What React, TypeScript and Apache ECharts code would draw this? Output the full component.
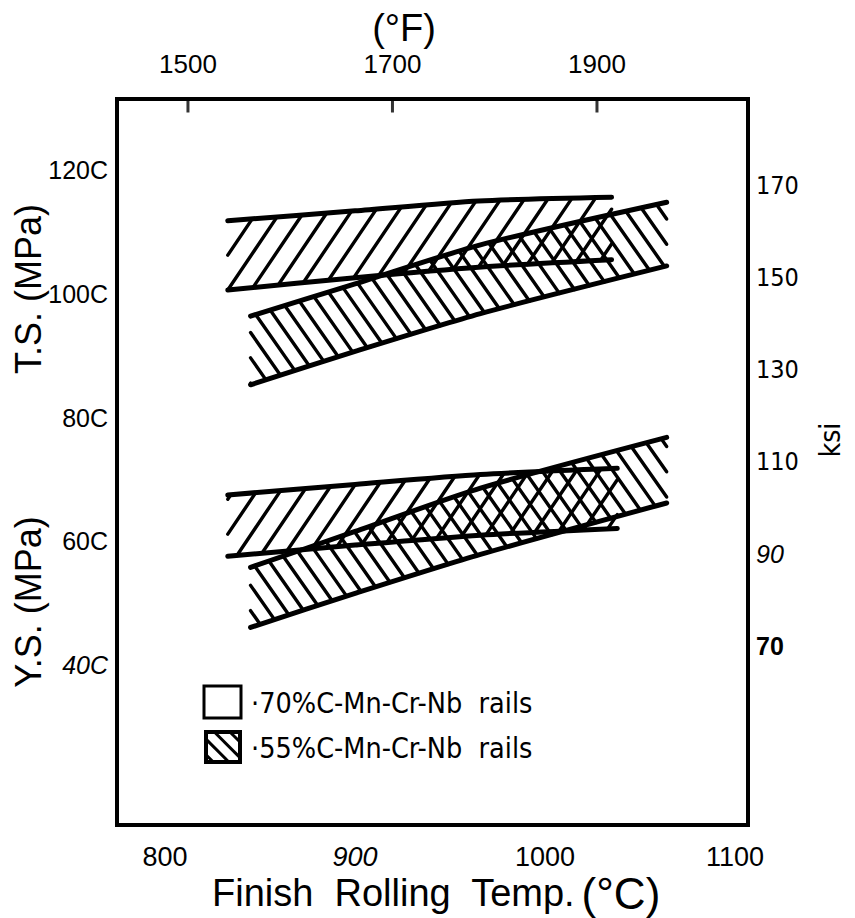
import React, { useEffect, useRef } from "react";
import * as echarts from "echarts";

// ---- axis ticks / labels ----
const xTicksC = [800, 900, 1000, 1100];
const xTicksF = [1500, 1700, 1900];
const yTicksMPa = [400, 600, 800, 1000, 1200];
const yTickLabelsMPa = ["40C", "60C", "80C", "100C", "120C"];
const yTicksKsi = [70, 90, 110, 130, 150, 170];

// ---- bands (temperature °C, upper / lower MPa) ----
// Tensile strength, .70%C rails
const ts70Temp = [833, 900, 965, 1035];
const ts70Upper = [1118, 1134, 1150, 1156];
const ts70Lower = [1006, 1026, 1043, 1055];
// Tensile strength, .55%C rails
const ts55Temp = [845, 900, 966, 1064];
const ts55Upper = [964, 1016, 1079, 1148];
const ts55Lower = [853, 907, 968, 1045];
// Yield strength, .70%C rails
const ys70Temp = [833, 900, 966, 1038];
const ys70Upper = [675, 692, 708, 718];
const ys70Lower = [576, 594, 610, 621];
// Yield strength, .55%C rails
const ys55Temp = [845, 900, 966, 1064];
const ys55Upper = [558, 616, 686, 768];
const ys55Lower = [461, 516, 579, 662];

const legendLabels = ["·70%C-Mn-Cr-Nb  rails", "·55%C-Mn-Cr-Nb  rails"];

const F_MIN = 1430.6;
const F_MAX = 2047.7;
const MPA_MIN = 141.8;
const MPA_MAX = 1314.7;

const NARROW = "'Liberation Sans Narrow', 'Arial Narrow', 'Liberation Sans', sans-serif";
const SANS = "'Liberation Sans', Arial, sans-serif";
const TECH = "'DejaVu Sans Condensed', 'DejaVu Sans', sans-serif";

type P = [number, number];

function hatchSegments(poly: P[], angleDeg: number, rising: boolean, spacing: number, offset = 0) {
  const a = (angleDeg * Math.PI) / 180;
  const d: P = [Math.cos(a), rising ? -Math.sin(a) : Math.sin(a)];
  const n: P = [-d[1], d[0]];
  const cs = poly.map((p) => p[0] * n[0] + p[1] * n[1]);
  const cmin = Math.min(...cs);
  const cmax = Math.max(...cs);
  const segs: [P, P][] = [];
  for (let c = Math.floor(cmin / spacing) * spacing + offset; c < cmax; c += spacing) {
    const pts: [number, number, number][] = [];
    for (let i = 0; i < poly.length; i++) {
      const p1 = poly[i];
      const p2 = poly[(i + 1) % poly.length];
      const f1 = p1[0] * n[0] + p1[1] * n[1] - c;
      const f2 = p2[0] * n[0] + p2[1] * n[1] - c;
      if (f1 < 0 !== f2 < 0) {
        const t = f1 / (f1 - f2);
        const x = p1[0] + (p2[0] - p1[0]) * t;
        const y = p1[1] + (p2[1] - p1[1]) * t;
        pts.push([x, y, x * d[0] + y * d[1]]);
      }
    }
    pts.sort((u, v) => u[2] - v[2]);
    for (let k = 0; k + 1 < pts.length; k += 2) {
      segs.push([
        [pts[k][0], pts[k][1]],
        [pts[k + 1][0], pts[k + 1][1]],
      ]);
    }
  }
  return segs;
}

function bandSeries(
  name: string,
  temps: number[],
  upper: number[],
  lower: number[],
  rising: boolean,
  angle: number,
  spacing: number,
  offset: number
) {
  return {
    type: "custom",
    name,
    coordinateSystem: "cartesian2d",
    xAxisIndex: 0,
    yAxisIndex: 0,
    clip: false,
    data: temps.map((t, i) => [t, upper[i], lower[i]]),
    renderItem: (params: any, api: any) => {
      if (params.dataIndex !== 0) return null;
      const up: P[] = temps.map((t, i) => api.coord([t, upper[i]]));
      const lo: P[] = temps.map((t, i) => api.coord([t, lower[i]]));
      const poly: P[] = [...up, ...lo.slice().reverse()];
      const segs = hatchSegments(poly, angle, rising, spacing, offset);
      const children: any[] = segs.map((s) => ({
        type: "line",
        shape: { x1: s[0][0], y1: s[0][1], x2: s[1][0], y2: s[1][1] },
        style: { stroke: "#000", lineWidth: 3.4, lineCap: "round" },
      }));
      children.push({
        type: "polyline",
        shape: { points: up, smooth: 0.25 },
        style: { stroke: "#000", fill: null, lineWidth: 5, lineCap: "round", lineJoin: "round" },
      });
      children.push({
        type: "polyline",
        shape: { points: lo, smooth: 0.25 },
        style: { stroke: "#000", fill: null, lineWidth: 5, lineCap: "round", lineJoin: "round" },
      });
      return { type: "group", children };
    },
  };
}

function legendHatch(x: number, y: number, w: number, h: number) {
  const poly: P[] = [
    [x, y],
    [x + w, y],
    [x + w, y + h],
    [x, y + h],
  ];
  return hatchSegments(poly, 45, false, 11, 3).map((s) => ({
    type: "line",
    shape: { x1: s[0][0], y1: s[0][1], x2: s[1][0], y2: s[1][1] },
    style: { stroke: "#000", lineWidth: 3 },
  }));
}

export default function App() {
  const ref = useRef<HTMLDivElement>(null);
  useEffect(() => {
    document.body.style.margin = "0";
    const chart = echarts.init(ref.current!, null, { renderer: "svg" });
    const option: any = {
      animation: false,
      backgroundColor: "#fff",
      grid: {
        left: 117,
        right: 107,
        top: 99,
        bottom: 93,
        show: true,
        borderColor: "#000",
        borderWidth: 4,
        backgroundColor: "transparent",
      },
      xAxis: [
        {
          type: "value",
          position: "bottom",
          min: 774.7,
          max: 1106.8,
          axisLine: { show: false },
          axisTick: { show: false },
          splitLine: { show: false },
          axisLabel: {
            customValues: xTicksC,
            margin: 18,
            color: "#000",
            formatter: (v: number) => (v === 900 ? `{i|${v}}` : `{n|${v}}`),
            rich: {
              n: { fontFamily: NARROW, fontSize: 27, color: "#000" },
              i: { fontFamily: NARROW, fontSize: 27, fontStyle: "italic", color: "#000" },
            },
          },
        },
        {
          type: "value",
          position: "top",
          min: F_MIN,
          max: F_MAX,
          axisLine: { show: false },
          axisTick: { show: false },
          splitLine: { show: false },
          axisLabel: {
            customValues: xTicksF,
            margin: 22,
            color: "#000",
            fontFamily: NARROW,
            fontSize: 26,
            formatter: (v: number) => String(v),
          },
        },
      ],
      yAxis: [
        {
          type: "value",
          position: "left",
          min: MPA_MIN,
          max: MPA_MAX,
          axisLine: { show: false },
          axisTick: { show: false },
          splitLine: { show: false },
          axisLabel: {
            customValues: yTicksMPa,
            margin: 9,
            color: "#000",
            formatter: (v: number) => {
              const s = yTickLabelsMPa[yTicksMPa.indexOf(v)];
              return v === 400 ? `{i|${s}}` : `{n|${s}}`;
            },
            rich: {
              n: { fontFamily: NARROW, fontSize: 25, color: "#000" },
              i: { fontFamily: NARROW, fontSize: 25, fontStyle: "italic", color: "#000" },
            },
          },
        },
        {
          type: "value",
          position: "right",
          min: 31.0,
          max: 188.8,
          axisLine: { show: false },
          axisTick: { show: false },
          splitLine: { show: false },
          axisLabel: {
            customValues: yTicksKsi,
            margin: 8,
            color: "#000",
            formatter: (v: number) => (v === 90 ? `{i|${v}}` : v === 70 ? `{b|${v}}` : `{n|${v}}`),
            rich: {
              n: { fontFamily: TECH, fontSize: 25, color: "#000" },
              i: { fontFamily: NARROW, fontSize: 25, fontStyle: "italic", color: "#000" },
              b: { fontFamily: NARROW, fontSize: 25, fontWeight: "bold", color: "#000" },
            },
          },
        },
      ],
      series: [
        bandSeries("TS .70%C", ts70Temp, ts70Upper, ts70Lower, true, 56, 19.5, 0),
        bandSeries("TS .55%C", ts55Temp, ts55Upper, ts55Lower, false, 55, 14.5, 0),
        bandSeries("YS .70%C", ys70Temp, ys70Upper, ys70Lower, true, 56, 19.5, 0),
        bandSeries("YS .55%C", ys55Temp, ys55Upper, ys55Lower, false, 55, 14.5, 0),
        {
          type: "scatter",
          name: "°F ticks",
          xAxisIndex: 1,
          yAxisIndex: 0,
          clip: false,
          silent: true,
          z: 10,
          symbol: "rect",
          symbolSize: [3, 13],
          symbolOffset: [0, 7],
          itemStyle: { color: "#000" },
          data: xTicksF.map((v) => [v, MPA_MAX]),
        },
      ],
      graphic: [
        {
          type: "text",
          x: 404,
          y: 28,
          style: {
            text: "(°F)",
            align: "center",
            verticalAlign: "middle",
            fontFamily: SANS,
            fontSize: 38,
            fill: "#000",
          },
        },
        {
          type: "text",
          x: 436,
          y: 893,
          style: {
            text: "{a|Finish  Rolling  Temp.}  {b|(°C)}",
            align: "center",
            verticalAlign: "middle",
            rich: {
              a: { fontFamily: SANS, fontSize: 38, fill: "#000" },
              b: { fontFamily: SANS, fontSize: 44, fill: "#000" },
            },
          },
        },
        {
          type: "text",
          x: 28,
          y: 289,
          rotation: Math.PI / 2,
          style: {
            text: "T.S. (MPa)",
            align: "center",
            verticalAlign: "middle",
            fontFamily: SANS,
            fontSize: 36,
            fill: "#000",
          },
        },
        {
          type: "text",
          x: 28,
          y: 602,
          rotation: Math.PI / 2,
          style: {
            text: "Y.S. (MPa)",
            align: "center",
            verticalAlign: "middle",
            fontFamily: SANS,
            fontSize: 36,
            fill: "#000",
          },
        },
        {
          type: "text",
          x: 830,
          y: 440,
          rotation: Math.PI / 2,
          style: {
            text: "ksi",
            align: "center",
            verticalAlign: "middle",
            fontFamily: TECH,
            fontSize: 28,
            fill: "#000",
          },
        },
        {
          type: "rect",
          shape: { x: 204, y: 686, width: 37, height: 32 },
          style: { stroke: "#000", fill: "#fff", lineWidth: 3 },
        },
        {
          type: "group",
          children: [
            {
              type: "rect",
              shape: { x: 206, y: 732, width: 34, height: 30 },
              style: { stroke: "#000", fill: "#fff", lineWidth: 4 },
            },
            ...legendHatch(206, 732, 34, 30),
          ],
        },
        {
          type: "text",
          x: 251,
          y: 703,
          style: {
            text: legendLabels[0],
            verticalAlign: "middle",
            fontFamily: TECH,
            fontSize: 28.5,
            fill: "#000",
          },
        },
        {
          type: "text",
          x: 251,
          y: 748,
          style: {
            text: legendLabels[1],
            verticalAlign: "middle",
            fontFamily: TECH,
            fontSize: 28.5,
            fill: "#000",
          },
        },
      ],
    };
    chart.setOption(option);
    return () => chart.dispose();
  }, []);
  return <div ref={ref} style={{ width: 855, height: 918 }} />;
}
